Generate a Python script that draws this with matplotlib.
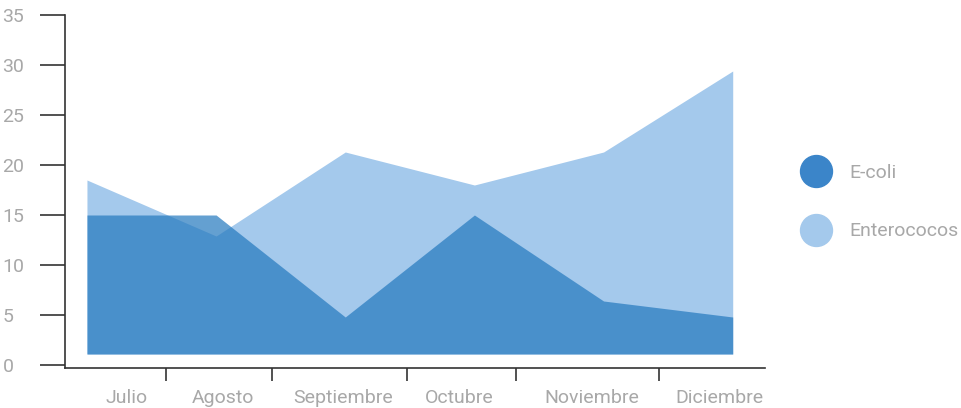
import numpy as np
import matplotlib.pyplot as plt
from matplotlib.lines import Line2D

months = ['Julio', 'Agosto', 'Septiembre', 'Octubre', 'Noviembre', 'Diciembre']
ecoli = [15, 15, 4.8, 15, 6.4, 4.8]
enterococos = [18.5, 12.9, 21.3, 18.0, 21.3, 29.4]
baseline = 1.1

# label / tick positions (in category units) as laid out in the original
label_pos = [0.31, 1.05, 1.98, 2.88, 3.91, 4.90]
tick_pos = [0.61, 1.43, 2.48, 3.32, 4.43]

light = '#a4c9ec'
dark = '#2378be'
grey = '#a8a8a8'
axis_col = '#333333'

plt.rcParams['font.family'] = ['Roboto', 'DejaVu Sans']

fig = plt.figure(figsize=(9.62, 4.08), dpi=100)
ax = fig.add_axes([65 / 962, 40 / 408, 700 / 962, 353 / 408])

x = np.arange(len(months))
ax.fill_between(x, baseline, enterococos, color=light, lw=0)
ax.fill_between(x, baseline, ecoli, color=dark, alpha=0.7, lw=0)

ax.set_xlim(-0.17, 5.25)
ax.set_ylim(-0.3, 35)

for s in ['top', 'right']:
    ax.spines[s].set_visible(False)
for s in ['left', 'bottom']:
    ax.spines[s].set_color(axis_col)
    ax.spines[s].set_linewidth(1.2)

ax.set_yticks(range(0, 36, 5))
ax.tick_params(axis='y', length=18, width=1.2, color=axis_col, pad=27,
               labelsize=14, labelcolor=grey)
for lbl in ax.get_yticklabels():
    lbl.set_horizontalalignment('left')

ax.set_xticks(tick_pos)
ax.set_xticklabels([])
ax.tick_params(axis='x', length=9, width=1.2, color=axis_col)
for pos, m in zip(label_pos, months):
    ax.text(pos, -2.4, m, ha='center', va='top', fontsize=14, color=grey)

handles = [Line2D([], [], marker='o', ls='', ms=23, color='#3b85c9'),
           Line2D([], [], marker='o', ls='', ms=23, color=light)]
fig.legend(handles, ['E-coli', 'Enterococos'], loc='center left',
           bbox_to_anchor=(783 / 962, 0.505), frameon=False, fontsize=14,
           labelcolor=grey, labelspacing=2.1, handlelength=1.6,
           handletextpad=0.9)

fig.savefig('out.png', dpi=100)
